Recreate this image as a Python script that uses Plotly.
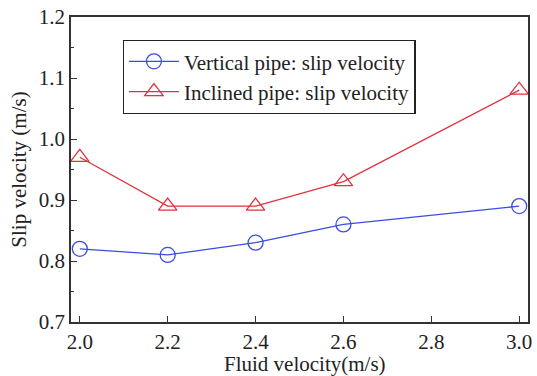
import plotly.graph_objects as go

fluid_velocity = [2.0, 2.2, 2.4, 2.6, 3.0]
vertical_slip = [0.82, 0.81, 0.83, 0.86, 0.89]
inclined_slip = [0.97, 0.89, 0.89, 0.93, 1.08]
x_ticks = [2.0, 2.2, 2.4, 2.6, 2.8, 3.0]
y_ticks = [0.7, 0.8, 0.9, 1.0, 1.1, 1.2]

font = "Liberation Serif, Times New Roman, serif"
blue = "#3b4de0"
red = "#e0323c"

fig = go.Figure()
fig.add_trace(go.Scatter(
    x=fluid_velocity, y=vertical_slip, mode="lines+markers",
    name="Vertical pipe: slip velocity",
    line=dict(color=blue, width=1.3),
    marker=dict(symbol="circle-open", size=15, color=blue, line=dict(width=1.3)),
))
fig.add_trace(go.Scatter(
    x=fluid_velocity, y=inclined_slip, mode="lines+markers",
    name="Inclined pipe: slip velocity",
    line=dict(color=red, width=1.3),
    marker=dict(symbol="triangle-up-open", size=16, color=red, line=dict(width=1.3)),
))

axis_common = dict(
    showline=True, linecolor="#333", linewidth=1.5, mirror=True,
    ticks="inside", ticklen=6, tickcolor="#333", tickwidth=1.3,
    showgrid=False, zeroline=False,
    tickfont=dict(family=font, size=21, color="#222"),
    minor=dict(ticks="inside", ticklen=3, tickcolor="#333", nticks=2),
)

fig.update_layout(
    width=537, height=376,
    margin=dict(l=71, r=5, t=15, b=54),
    paper_bgcolor="white", plot_bgcolor="white",
    font=dict(family=font, color="#222"),
    xaxis=dict(range=[1.98, 3.02], tickvals=x_ticks, ticktext=[f"{v:.1f}" for v in x_ticks],
               ticklabelstandoff=0, **axis_common),
    yaxis=dict(range=[0.7, 1.2], tickvals=y_ticks, ticktext=[f"{v:.1f}" for v in y_ticks],
               title=dict(text="Slip velocity (m/s)", font=dict(family=font, size=21), standoff=6),
               **axis_common),
    legend=dict(x=0.113, y=0.925, xanchor="left", yanchor="top",
                bordercolor="#222", borderwidth=1.3, bgcolor="white",
                font=dict(family=font, size=21, color="#222"),
                tracegroupgap=0, itemwidth=50),
    showlegend=True,
    annotations=[dict(
        text="Fluid velocity(m/s)", xref="paper", yref="paper",
        x=0.512, y=-0.137, xanchor="center", yanchor="middle", showarrow=False,
        font=dict(family=font, size=21, color="#222"),
    )],
)

fig.write_html("out.html")
